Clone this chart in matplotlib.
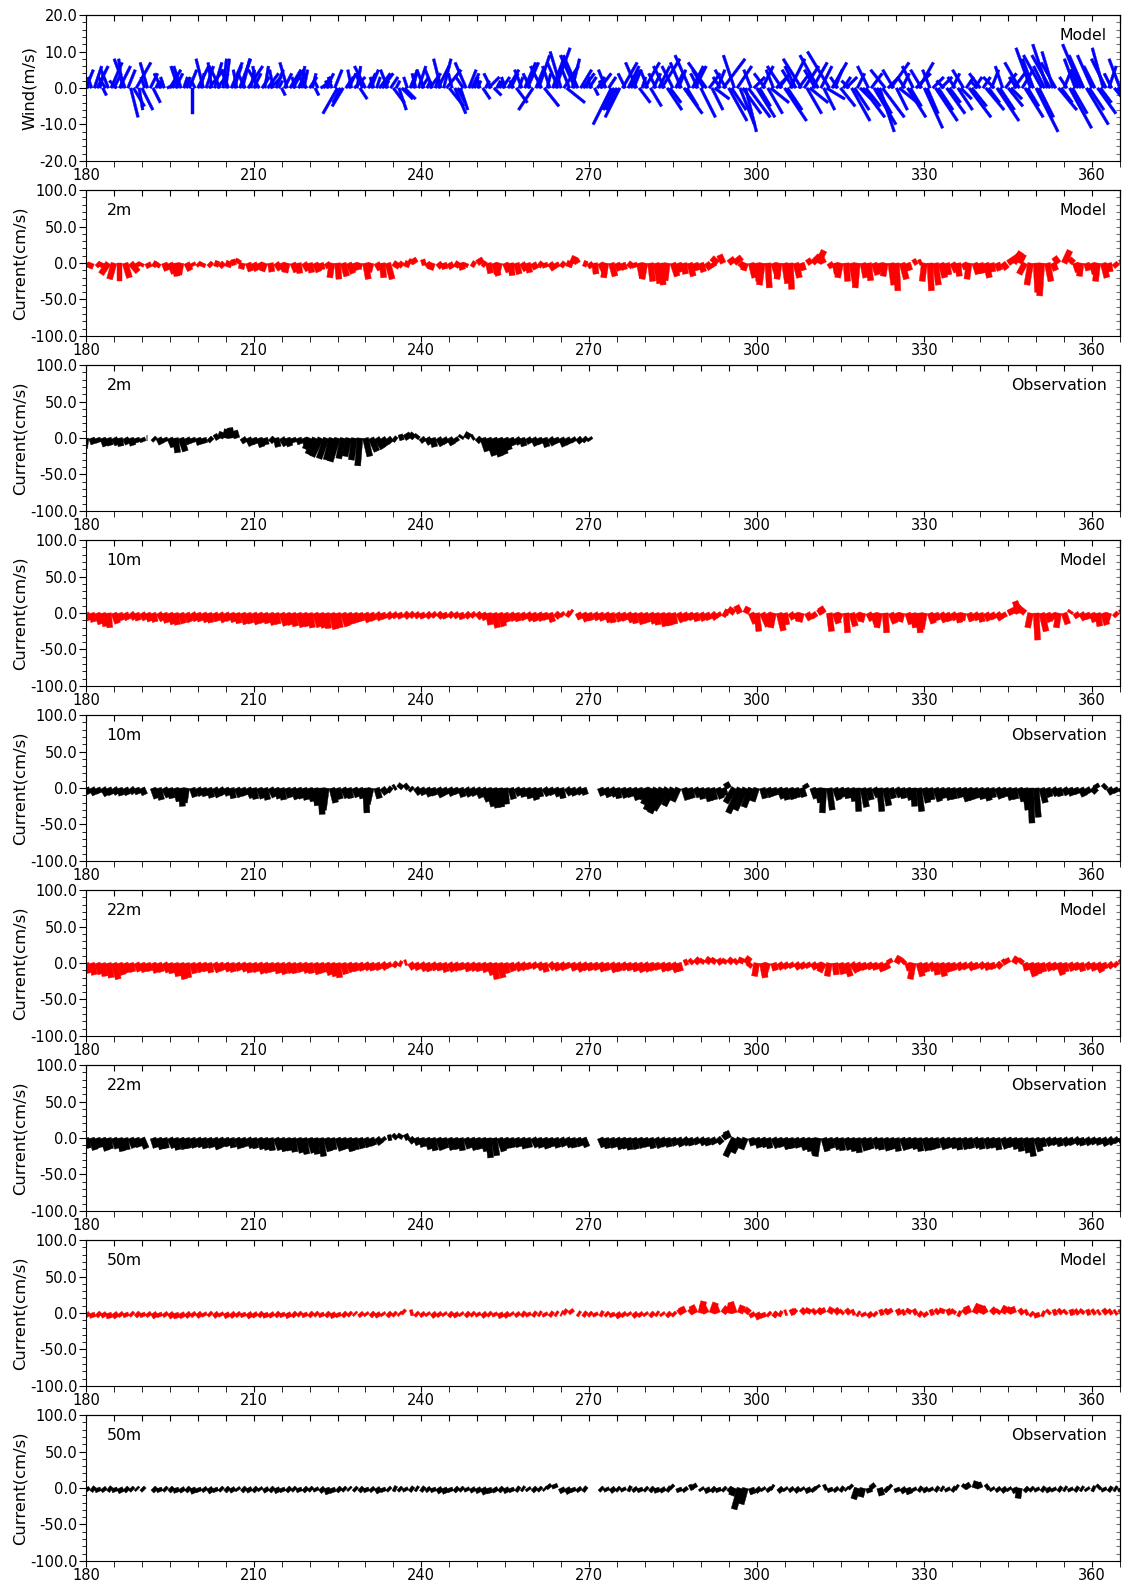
import numpy as np
import matplotlib
matplotlib.use('Agg')
import matplotlib.pyplot as plt
from matplotlib.ticker import MultipleLocator, FormatStrFormatter

nan = np.nan
days = np.arange(180, 366)               # daily current samples (day of year)
days_2m_obs = np.arange(180, 271)
wind_t = np.arange(180, 365.01, 0.5)     # 12-hourly wind samples

# ---------------- wind (m/s), model, two samples per day ----------------
wind_u = [2, -1, -1, 2, 3, 1, 1, -2, -2, 3,
          2, -2, 3, -1, -3, 2, 2, 3, 4, 1,
          3, -1, -2, 2, 2, 1, 1, -2, -1, 2,
          3, 1, 2, -2, -2, 1, 1, 2, 0, -1,
          3, 1, -2, 2, 4, -1, 2, 3, -3, 1,
          1, -2, 3, 2, -1, 3, 2, -2, 4, 1,
          2, -1, -3, 2, 1, 3, 3, -1, 2, 1,
          1, 2, -2, 3, 3, -1, 2, 1, 1, -2,
          2, 1, 1, -1, 3, 2, 2, -1, -1, 2,
          -4, -2, -3, 2, 2, -1, 3, 1, 2, -2,
          -3, 2, 2, -1, 1, 3, 3, 1, -2, 2,
          3, 1, 2, 3, 3, -1, 2, 1, -1, 2,
          2, -2, 1, 3, -2, 1, 3, -2, 2, 4,
          4, -1, 3, 2, 2, -2, -3, 2, 2, 1,
          1, -1, 2, 1, 3, -2, 2, 1, 1, 2,
          -1, 3, 2, -1, 3, 1, -2, 3, 3, -2,
          -4, 2, 3, -3, 4, 1, -2, 3, 4, -3,
          -3, 4, 5, -2, 2, -4, -4, 3, 3, 1,
          2, -1, 1, 2, 3, -1, -2, 2, -5, -3,
          -3, -4, 4, -2, 3, 2, 2, -3, 3, 1,
          4, -2, 3, 2, -2, 3, 5, -3, 4, 3,
          -3, 2, 2, -3, 5, 3, -4, 3, 3, -2,
          4, -3, -5, 3, 3, 4, 2, -2, 6, -3,
          5, 4, -3, 4, 4, 5, 3, 6, -2, 3,
          5, 3, 3, -3, 4, 5, -2, 3, 3, -4,
          6, 4, 4, -3, -3, 3, -5, 4, 4, 5,
          4, -3, -5, 3, 3, 5, -6, 4, 2, -2,
          4, 2, 3, -2, 5, 4, 2, 3, 6, 4,
          -3, 3, 6, 4, 4, 6, -4, 3, 5, -3,
          3, 5, 2, -2, 5, 3, -3, 4, 4, -3,
          5, 3, -2, 3, 6, 4, 3, -2, 5, 3,
          2, -2, 4, 3, -3, 2, 6, 4, 2, -2,
          -3, 2, 5, 3, 2, -3, 6, 4, -2, 3,
          4, 3, 3, -2, -4, 3, 5, 3, -4, -3,
          6, 4, -5, -3, -4, -5, -3, -4, 5, 3,
          2, -2, 6, 4, -3, -2, -5, -4, 6, 4,
          -4, -3, 5, 3, -3, -4, 2, -2, 4, 3,
          -3]
wind_v = [5, 2, 3, 6, 6, 4, -2, 3, 5, 7,
          4, 2, 6, 8, 8, 5, -8, -5, 7, -6,
          -6, 3, 7, 4, -4, 2, 2, 4, 3, 1,
          5, 3, 4, 6, 6, 3, 3, 5, -7, 2,
          6, 4, 8, 6, 5, 7, 7, 4, 6, 8,
          8, 5, 7, 6, 5, 8, 8, 4, 6, 5,
          4, 6, 5, 3, 6, 4, 3, 5, 5, 2,
          -2, 4, 7, 5, 5, 3, 4, 6, 5, 3,
          3, 4, -2, 2, 2, 3, 4, 2, 3, 5,
          -7, -4, -5, 3, 4, 5, 3, 6, -3, 4,
          6, 4, 5, 3, 3, 4, 4, 2, 5, 3,
          -4, 2, -6, -3, -3, 3, 5, 4, 4, 6,
          3, 5, 2, 4, 5, 3, 6, 8, 8, 5,
          -5, 4, -7, -4, -6, 3, 7, 5, 4, 3,
          2, 3, -3, 2, 3, 4, -2, 2, 2, 3,
          3, 5, 4, 2, -4, 3, 5, 7, 7, 4,
          -6, 5, 9, 6, -5, 4, 6, 8, 11, 7,
          10, 6, -4, 5, 8, 9, 9, 5, 4, 3,
          3, 2, -2, 3, 4, 2, 5, 3, -10, -6,
          -6, -8, 7, 4, 6, 5, 5, 7, -4, 3,
          7, 5, -5, 4, 4, 6, 8, 6, -6, -4,
          6, 4, 5, 7, -7, -5, 9, 6, 6, 4,
          -8, 5, 7, 4, -6, -3, 5, 3, 8, 5,
          -9, -6, 9, 6, -10, -7, -12, -8, 5, 3,
          -8, -5, 6, 4, -7, -4, 5, 3, 4, 6,
          -9, -6, 8, 5, 6, 4, 8, 6, -7, -4,
          7, 5, 9, 6, -6, -3, 10, 7, 5, 3,
          -5, 3, 3, 2, -9, -6, 4, -3, -8, -5,
          6, 4, -10, -7, -12, -8, 5, 3, 7, 5,
          -6, -4, 4, 3, -8, -5, 6, 4, 7, 5,
          -11, -7, 5, 3, -9, -6, 3, 2, -7, -4,
          4, 3, -6, -3, 5, 3, -8, -5, 3, 2,
          4, 3, -6, -4, 5, 3, -9, -6, 6, 4,
          -5, -3, 4, 3, 7, 5, -8, -5, 11, 8,
          -12, -8, 9, 6, 12, 9, 10, 7, -6, -4,
          5, 3, -11, -7, 8, 5, 12, 9, -10, -6,
          9, 6, -7, -4, 11, 8, 6, 4, -5, -3,
          8]

# ---------------- currents (cm/s), daily ----------------
cur2m_mod_u = [2, -3, 4, -2, -10, -6, 0, 6, 10, 3,
               -2, 3, 5, -3, 4, 6, 2, -3, 5, 2,
               3, -2, 4, 6, 5, 8, 6, 3, -2, 4,
               5, 3, -4, 2, 6, 4, -3, 5, 2, 6,
               3, 5, 2, 4, -3, 2, 5, 6, 3, -2,
               4, -3, 5, 2, 6, 8, 5, 7, 3, -4,
               6, 4, -3, 5, 2, 4, 6, 3, -2, 5,
               8, 4, 3, 6, -4, 5, 2, 4, 6, 3,
               4, 5, 2, 6, 3, 5, 8, 4, -3, 5,
               4, 2, 6, -3, 5, 4, 3, 6, 2, 4,
               -4, 3, 5, 2, -3, 6, 4, 2, 5, 3,
               4, 6, 3, -8, -5, 8, 10, 4, -3, 5,
               3, -4, 2, 6, -3, 4, 2, 5, 3, 6,
               10, 8, -6, 4, 3, -4, 2, 5, -3, 4,
               3, 5, 2, -3, 4, 2, 6, 3, 5, 4,
               -3, 2, 4, 5, 3, 6, 2, 4, -3, 5,
               3, 5, 2, 4, 6, 15, 10, 6, -8, -5,
               2, -3, 5, 4, -6, 8, 5, 4, -2, 3,
               4, -3, 5, 2, 4, 6]
cur2m_mod_v = [-5, -7, -4, -6, -15, -22, -24, -20, -12, -5,
               -4, -6, -3, -5, -10, -14, -18, -16, -10, -4,
               -3, -5, -4, -2, -5, -3, 2, 5, -8, -11,
               -10, -6, -11, -12, -9, -10, -13, -12, -14, -10,
               -13, -12, -9, -6, -20, -22, -18, -14, -10, -8,
               -22, -12, -9, -20, -22, -5, -4, -3, 4, 6,
               2, -5, -9, -6, -8, -7, -4, -9, -5, -3,
               5, -3, -14, -17, -16, -12, -17, -15, -10, -13,
               -8, -4, -6, -9, -6, -4, -3, 9, 5, -2,
               -6, -15, -12, -20, -18, -10, -9, -5, -6, -20,
               -22, -25, -28, -30, -24, -18, -12, -15, -18, -10,
               -12, -8, -5, 7, 11, 6, 8, -4, -10, -20,
               -25, -30, -34, -18, -22, -28, -36, -20, -10, 4,
               10, 17, 12, -6, -15, -20, -25, -28, -34, -20,
               -24, -16, -12, -18, -30, -38, -22, -10, 3, 2,
               -25, -38, -30, -20, -16, -12, -18, -8, -22, -15,
               -14, -20, -12, -10, -8, 10, 15, 12, -15, -30,
               -40, -45, -25, -10, 8, 17, 6, -12, -18, -10,
               -15, -25, -20, -12, -5, 3]

cur2m_obs_u = [-2, 3, 2, 4, 3, 5, 2, 4, 3, 2,
               2, 0, 3, 4, 2, 5, 3, 6, 4, 2,
               3, 2, 4, 5, 3, 2, -2, -3, 4, 5,
               3, 4, 2, 5, 3, 6, 4, 2, 3, 4,
               -6, -10, -12, -10, -8, -10, -6, -5, -4, -3,
               6, 8, 9, 7, 5, 4, 6, 8, 5, 3,
               4, 5, 3, 6, 4, 5, 3, 2, 4, 3,
               5, 6, 8, 9, 8, 6, 4, 5, 3, 4,
               5, 3, 4, 6, 3, 5, 4, 3, 5, 4,
               2]
cur2m_obs_v = [-14, -8, -6, -11, -10, -9, -11, -8, -10, -6,
               -5, 0, -3, -8, -5, -12, -20, -18, -8, -6,
               -9, -7, -4, 3, 8, 12, 14, 10, -6, -10,
               -8, -12, -9, -5, -12, -10, -11, -6, -8, -9,
               -15, -22, -25, -28, -30, -32, -28, -25, -30, -38,
               -25, -18, -14, -10, -6, -3, 2, 5, 6, 4,
               -5, -8, -12, -10, -7, -9, -5, 3, 7, 2,
               -5, -18, -24, -25, -22, -16, -10, -8, -11, -7,
               -10, -8, -12, -9, -7, -11, -8, -5, -6, -4,
               -3]

cur10m_mod_u = [4, 3, 5, 4, 2, 5, 3, 4, 6, 3,
                5, 4, 3, 6, 4, 5, 3, 4, 5, 6,
                4, 5, 3, 4, 6, 5, 4, 3, 5, 4,
                6, 5, 4, 5, 3, 6, 5, 4, 6, 5,
                4, 6, 5, 3, 5, 4, 6, 5, 4, 3,
                5, 4, 6, 3, 5, 4, 3, 6, 5, 4,
                3, 5, 4, 6, 3, 5, 4, 3, 5, 4,
                6, 4, 3, 5, 6, 4, 5, 3, 4, 6,
                4, 5, 3, 4, 6, 3, 5, -3, 4, 5,
                3, 5, 4, 6, 3, 5, 4, 6, 3, 5,
                4, 6, 3, 5, 4, 3, 6, 5, 4, 3,
                5, 4, 6, 3, 5, -6, -8, -5, 4, 6,
                3, 8, 5, -4, 6, 3, 5, 4, -3, 5,
                4, 6, -5, 3, 5, -4, 2, 5, 4, -3,
                5, 3, -4, 2, 6, 4, -3, 5, 3, 2,
                -4, 5, 3, 6, 4, 5, 3, -2, 4, 5,
                3, 5, 4, 6, 3, 8, 6, -6, -10, -4,
                2, 6, 4, 3, -3, 5, 2, 4, 6, 3,
                4, 3, 5, -3, 4, 5]
cur10m_mod_v = [-10, -12, -15, -18, -20, -14, -10, -9, -8, -10,
                -9, -11, -12, -10, -13, -15, -16, -14, -12, -10,
                -11, -12, -13, -11, -12, -10, -12, -14, -15, -14,
                -15, -13, -14, -16, -15, -17, -16, -18, -19, -18,
                -20, -19, -20, -21, -22, -20, -18, -15, -13, -11,
                -12, -10, -9, -8, -7, -6, -7, -6, -5, -6,
                -7, -6, -5, -6, -7, -5, -6, -8, -6, -5,
                -7, -9, -16, -20, -18, -12, -10, -11, -9, -10,
                -11, -10, -9, -12, -6, -4, -3, 2, -8, -11,
                -10, -9, -10, -12, -13, -11, -10, -12, -14, -15,
                -13, -14, -16, -18, -17, -15, -12, -10, -9, -11,
                -10, -9, -8, -5, -3, 2, 6, 10, 8, -14,
                -25, -18, -10, -20, -24, -16, -8, -10, -12, -9,
                -6, 4, 8, -25, -14, -10, -27, -18, -8, -12,
                -10, -15, -20, -27, -14, -10, -12, -15, -20, -27,
                -22, -14, -10, -12, -11, -9, -13, -10, -11, -9,
                -12, -10, -8, -9, -6, 4, 12, 16, 8, -20,
                -37, -25, -12, -8, -20, -15, 3, -6, -9, -8,
                -12, -18, -16, -10, -4, 3]

cur10m_obs_u = [4, 5, 3, 6, 4, 5, 3, 4, 5, 3,
                4, nan, 5, 4, 6, 3, 5, 2, -3, 4,
                5, 3, 4, 6, 5, 4, 3, 5, 4, 6,
                3, 5, 4, 6, 5, 3, 4, 6, 5, 4,
                5, 3, 2, -4, 5, 4, 6, 3, 5, 4,
                2, -5, 4, 6, 5, 3, 4, 5, 3, 6,
                4, 5, 3, 6, 4, 5, 3, 4, 6, 5,
                6, 8, 7, 5, 3, 2, 4, 5, 3, 4,
                5, 3, 6, 4, 5, 3, 6, 4, 5, 3,
                nan, nan, 4, 5, 6, 3, 5, 4, 6, 5,
                4, -10, -14, -16, -18, -12, -8, 5, 4, 6,
                3, 5, 4, 6, 3, -4, -12, -16, -14, -10,
                -6, 4, 5, 3, 6, 4, 5, 3, 4, -3,
                5, 3, -2, 4, 6, 5, 3, 4, 2, 5,
                4, 6, 3, 5, 4, 6, 3, 5, 2, 4,
                5, 3, 6, 4, 5, 3, 4, 6, 5, 3,
                4, 5, 3, 6, 4, 5, 3, 6, 4, 2,
                3, 5, 4, 6, 3, 5, 4, 3, 5, 4,
                6, -3, 4, 5, 3, 4]
cur10m_obs_v = [-8, -9, -7, -10, -9, -8, -10, -9, -7, -8,
                -9, nan, -14, -16, -12, -14, -18, -25, -20, -12,
                -10, -11, -13, -12, -9, -10, -14, -12, -10, -13,
                -15, -14, -16, -12, -14, -16, -13, -15, -14, -16,
                -18, -24, -36, -30, -20, -15, -13, -14, -12, -14,
                -34, -22, -14, -8, -4, 2, 5, 4, -3, -8,
                -9, -11, -10, -12, -9, -10, -8, -12, -11, -10,
                -13, -18, -25, -27, -26, -22, -15, -10, -12, -14,
                -16, -12, -10, -9, -11, -14, -9, -10, -8, -9,
                nan, nan, -10, -12, -11, -14, -13, -12, -16, -15,
                -14, -22, -30, -34, -30, -24, -18, -16, -14, -12,
                -15, -18, -16, -14, -10, 7, -20, -34, -30, -26,
                -18, -14, -12, -10, -14, -16, -15, -13, -12, 5,
                -14, -20, -34, -30, -16, -12, -14, -18, -32, -26,
                -16, -12, -32, -24, -14, -12, -14, -16, -25, -32,
                -20, -16, -18, -14, -16, -15, -13, -18, -16, -14,
                -15, -17, -13, -14, -12, -16, -15, -18, -30, -48,
                -40, -20, -12, -10, -11, -9, -10, -8, -11, -7,
                -6, 5, 4, -8, -6, -4]

cur22m_mod_u = [3, 4, 5, 3, 4, 6, 5, 4, 3, 5,
                4, 3, 5, 4, 6, 3, 4, 5, 3, 4,
                5, 4, 3, 6, 4, 5, 3, 4, 5, 3,
                4, 6, 5, 3, 4, 5, 6, 3, 4, 5,
                3, 5, 4, 6, 5, 3, 4, 5, 3, 4,
                5, 3, 4, 6, 3, 5, 4, 3, 5, 4,
                6, 4, 5, 3, 4, 6, 5, 3, 4, 5,
                3, 5, 6, 4, 5, 3, 4, 6, 5, 3,
                4, 5, 3, 6, 4, 5, 3, 4, 6, 5,
                3, 4, 5, 3, 6, 4, 5, 3, 4, 5,
                6, 4, 3, 5, 4, 6, 3, 5, 4, 6,
                3, 5, 4, 6, 3, 5, 4, 3, 6, -4,
                -3, 4, -5, 3, 5, 4, 3, 5, 4, 3,
                5, 4, -6, -3, 2, 4, 6, 8, 5, 3,
                4, 3, 5, 4, -3, 5, 4, 3, -4, 5,
                4, 6, 3, 5, 4, 3, 5, 4, 6, 3,
                5, 4, 3, 6, 4, -3, 5, 4, 3, 6,
                4, 3, 5, 4, 6, 3, 5, 4, 3, 5,
                4, 6, 3, 5, 4, 3]
cur22m_mod_v = [-14, -16, -15, -18, -20, -22, -16, -13, -12, -11,
                -12, -11, -13, -12, -12, -14, -18, -22, -20, -14,
                -12, -11, -13, -12, -10, -11, -12, -10, -11, -13,
                -12, -14, -13, -12, -14, -15, -13, -14, -12, -13,
                -14, -15, -13, -16, -18, -20, -15, -12, -11, -10,
                -9, -10, -9, -8, -6, -4, -2, 1, -8, -9,
                -10, -11, -9, -10, -12, -11, -10, -9, -11, -10,
                -11, -12, -16, -22, -20, -14, -11, -10, -9, -8,
                -7, -9, -12, -8, -10, -9, -7, -10, -11, -9,
                -10, -9, -11, -10, -12, -11, -9, -10, -11, -12,
                -11, -10, -9, -11, -10, -12, -11, 2, 4, 6,
                5, 7, 6, 4, 5, 6, 4, 7, 8, -5,
                -18, -20, -16, -10, -8, -7, -6, -8, -7, -6,
                -8, -9, -12, -18, -16, -15, -18, -12, -10, -9,
                -8, -9, -11, -8, 5, 9, 4, -10, -22, -18,
                -12, -10, -16, -18, -12, -10, -9, -8, -9, -8,
                -7, -9, -8, -6, 3, 6, 8, 5, -10, -18,
                -15, -12, -10, -9, -16, -12, -10, -9, -11, -8,
                -10, -12, -8, -6, -4, 3]

cur22m_obs_u = [3, 5, 4, 6, 3, 5, 4, 3, 5, 4,
                6, nan, 4, 5, 3, 6, 4, 5, 3, 4,
                5, 3, 4, 6, 5, 4, 3, 5, 4, 6,
                3, 5, 4, 3, 6, 5, 4, 3, 5, 4,
                6, 3, 4, 5, 3, 6, 4, 5, 3, 4,
                5, 4, 6, 3, 5, 4, 3, 6, 5, 4,
                3, 5, 4, 6, 3, 5, 4, 3, 5, 6,
                4, 5, 3, 4, 6, 5, 3, 4, 5, 3,
                6, 4, 5, 3, 4, 5, 6, 3, 4, 5,
                nan, nan, 5, 3, 4, 6, 5, 3, 4, 5,
                3, 4, 6, 5, 3, 4, 5, 6, 3, 4,
                5, 3, 4, 6, 5, -4, -12, -10, -6, 3,
                4, 5, 3, 6, 4, 5, 3, 4, 6, 5,
                3, -4, 5, 4, 6, 3, 5, 4, 3, 5,
                4, 6, 3, 5, 4, 3, 6, 5, 4, 3,
                5, 4, 3, 6, 5, 4, 3, 5, 4, 6,
                3, 5, 4, 3, 6, 5, 4, 3, 5, 4,
                6, 3, 5, 4, 3, 5, 4, 6, 3, 5,
                4, 3, 5, 6, 4, 3]
cur22m_obs_v = [-14, -16, -13, -17, -15, -14, -18, -16, -13, -12,
                -14, nan, -13, -15, -14, -13, -16, -15, -14, -13,
                -12, -14, -13, -15, -12, -11, -13, -14, -12, -13,
                -14, -15, -16, -17, -16, -18, -17, -19, -20, -22,
                -20, -22, -25, -18, -16, -17, -15, -18, -16, -14,
                -12, -10, -8, -4, 1, 4, 5, 3, -6, -9,
                -12, -15, -17, -16, -14, -16, -15, -17, -14, -16,
                -15, -18, -27, -24, -18, -14, -13, -12, -14, -13,
                -12, -13, -14, -12, -13, -11, -12, -13, -11, -12,
                nan, nan, -12, -14, -13, -15, -14, -16, -15, -13,
                -12, -14, -13, -11, -12, -10, -11, -9, -10, -8,
                -9, -10, -8, -7, 4, 9, -25, -20, -15, -10,
                -13, -12, -14, -13, -12, -15, -14, -13, -16, -18,
                -22, -25, -18, -14, -15, -17, -16, -18, -20, -17,
                -15, -14, -16, -17, -15, -18, -16, -14, -15, -18,
                -17, -16, -14, -15, -13, -14, -16, -15, -14, -13,
                -15, -14, -13, -16, -14, -12, -15, -18, -20, -25,
                -18, -12, -10, -9, -11, -10, -9, -8, -10, -9,
                -8, -9, -10, -8, -6, -5]

cur50m_mod_u = [3, 2, 4, 3, 2, 4, 3, 2, 3, 4,
                2, 3, 4, 2, 3, 4, 2, 3, 4, 3,
                4, 2, 3, 4, 2, 3, 4, 3, 2, 4,
                3, 4, 2, 3, 4, 2, 3, 4, 3, 2,
                4, 3, 2, 4, 3, 2, 4, 3, 2, 3,
                2, 4, 3, 2, 4, 3, 2, -3, 4, 3,
                3, 2, 4, 3, 2, 4, 3, 2, 4, 3,
                2, 4, 3, 2, 3, 4, 2, 3, 4, 2,
                4, 3, 2, 4, 3, 2, -4, -3, 3, 4,
                3, 2, 4, 3, 2, 4, 3, 2, 4, 3,
                2, 4, 3, 2, 4, 3, 5, -4, 6, -5,
                4, -6, 5, -4, 6, 3, -5, 4, 5, 3,
                4, 2, 3, 5, 4, 3, 6, -4, 5, 3,
                4, 5, -3, 4, 6, 3, 5, 4, 3, 2,
                4, 3, 5, 4, -3, 6, 4, 3, 5, 4,
                3, 5, 4, 2, 6, 3, 4, 5, -4, 6,
                4, -5, 6, 3, 5, 4, -3, 5, 4, 3,
                2, 4, 3, 5, 4, 3, 6, 4, 3, 5,
                4, 3, 5, 4, 3, 2]
cur50m_mod_v = [-5, -6, -4, -5, -7, -6, -4, -5, -3, -4,
                -5, -4, -6, -5, -4, -6, -7, -6, -5, -4,
                -5, -4, -3, -5, -4, -6, -5, -4, -5, -6,
                -5, -4, -6, -5, -4, -5, -6, -4, -3, -5,
                -4, -3, -5, -4, -6, -5, -4, -3, -2, -4,
                -3, -4, -5, -3, -4, -3, -2, 3, 1, -3,
                -4, -3, -5, -4, -3, -4, -5, -3, -4, -3,
                -4, -5, -3, -4, -6, -5, -3, -4, -3, -4,
                -3, -2, -4, -3, -2, -1, 3, 4, -2, -3,
                -3, -4, -2, -3, -5, -6, -4, -3, -5, -4,
                -3, -4, -2, -3, -4, -3, 4, 8, 6, 10,
                16, 12, 14, 10, 8, 12, 15, 10, 6, -5,
                -8, -6, -3, -4, -2, 1, 3, 4, 5, 6,
                4, 5, 6, 7, 5, 3, 4, 2, -2, -4,
                -5, -3, 2, 4, 5, 3, 2, 5, 3, -3,
                -4, 2, 4, 6, 3, 4, -2, 5, 9, 12,
                10, 8, 6, 4, 9, 7, 8, 4, 2, -3,
                -6, -2, 3, 2, 4, 3, 2, 3, 4, 2,
                3, 2, 4, 3, 2, 3]

cur50m_obs_u = [3, 4, 2, 3, 4, 2, 3, 4, 3, 2,
                3, nan, 4, 2, 3, 4, 2, 3, 4, 3,
                2, 3, 4, 2, 3, 4, 3, 2, 4, 3,
                4, 2, 3, 4, 3, 2, 4, 3, 2, 4,
                3, 2, 4, 3, 2, 4, 3, 2, 3, 4,
                2, 3, 4, 2, 3, 4, 3, 2, 4, 3,
                4, 3, 2, 4, 3, 2, 4, 3, 2, 3,
                3, 4, 2, 3, 4, 3, 2, 4, 3, 2,
                4, 3, 2, -3, -2, 3, 4, 2, 3, 4,
                nan, nan, 3, 2, 4, 3, 2, 4, 3, 2,
                3, 4, 2, 3, 4, -3, 2, 3, 4, -3,
                2, 3, 4, 2, 3, 4, -4, -8, -6, 3,
                4, 2, 3, -3, 4, 2, 3, 4, 2, 3,
                3, -2, 4, 2, 3, 4, 2, -3, -5, -3,
                2, -4, 3, 4, -3, 2, 4, 3, 2, 4,
                3, 2, 4, 3, 2, 4, -3, 3, -4, 3,
                -3, 4, 2, 3, 4, 2, 3, -2, 4, 3,
                2, 4, 3, 2, 4, 3, 2, 4, 3, 2,
                4, 3, 2, 4, 3, 2]
cur50m_obs_v = [-4, -3, -5, -4, -3, -5, -6, -4, -3, -2,
                -3, nan, -4, -5, -3, -4, -6, -5, -4, -7,
                -5, -4, -6, -5, -3, -4, -5, -3, -4, -5,
                -4, -3, -5, -4, -6, -5, -4, -3, -5, -4,
                -3, -4, -5, -8, -6, -4, -3, -2, -3, -4,
                -5, -4, -6, -5, -3, -2, -3, -4, -3, -2,
                -3, -4, -5, -6, -7, -5, -4, -3, -4, -5,
                -6, -8, -7, -5, -4, -6, -5, -3, -2, -3,
                -4, -3, -2, 4, 5, -6, -7, -5, -4, -3,
                nan, nan, -3, -4, -5, -3, -4, -2, -4, -5,
                -3, -4, -6, -5, -3, 3, -5, -4, 2, 5,
                -3, -6, -4, -5, -3, -4, -10, -29, -22, -8,
                -5, -3, -4, 2, -5, -3, -4, -5, -3, -6,
                -4, 3, 2, -5, -4, -3, -2, 3, -15, -12,
                -6, 5, -10, -4, 3, -5, -6, -8, -4, -3,
                -5, -4, -3, -2, -4, -3, 2, 4, 6, 9,
                7, 3, -3, -4, -5, -3, -6, -14, -4, -3,
                -4, -3, -5, -4, -3, -2, -4, -3, -2, -3,
                -2, 3, -4, -3, -2, -4]

panels = [
    (wind_t, wind_u, wind_v, 'blue', 'Wind(m/s)', '', 'Model'),
    (days, cur2m_mod_u, cur2m_mod_v, 'red', 'Current(cm/s)', '2m', 'Model'),
    (days_2m_obs, cur2m_obs_u, cur2m_obs_v, 'black', 'Current(cm/s)', '2m', 'Observation'),
    (days, cur10m_mod_u, cur10m_mod_v, 'red', 'Current(cm/s)', '10m', 'Model'),
    (days, cur10m_obs_u, cur10m_obs_v, 'black', 'Current(cm/s)', '10m', 'Observation'),
    (days, cur22m_mod_u, cur22m_mod_v, 'red', 'Current(cm/s)', '22m', 'Model'),
    (days, cur22m_obs_u, cur22m_obs_v, 'black', 'Current(cm/s)', '22m', 'Observation'),
    (days, cur50m_mod_u, cur50m_mod_v, 'red', 'Current(cm/s)', '50m', 'Model'),
    (days, cur50m_obs_u, cur50m_obs_v, 'black', 'Current(cm/s)', '50m', 'Observation'),
]

W, H = 1124, 1587
fig = plt.figure(figsize=(W / 100, H / 100), dpi=100)
left, width = 86 / W, 1034 / W
top0, step, ph = 15.2, 175.0, 145.7
fs = 10.5

for i, (t, u, v, col, ylab, depth, src) in enumerate(panels):
    bottom = 1 - (top0 + step * i + ph) / H
    ax = fig.add_axes([left, bottom, width, ph / H])
    is_wind = i == 0
    ax.set_xlim(180, 365)
    if is_wind:
        ax.set_ylim(-20, 20)
        ax.yaxis.set_major_locator(MultipleLocator(10))
        ax.yaxis.set_minor_locator(MultipleLocator(2))
        sw = 0.0026
    else:
        ax.set_ylim(-100, 100)
        ax.yaxis.set_major_locator(MultipleLocator(50))
        ax.yaxis.set_minor_locator(MultipleLocator(10))
        sw = 0.0057
    ax.quiver(t, np.zeros(len(t)), np.array(u, float), np.array(v, float),
              color=col, angles='uv', scale_units='y', scale=1, pivot='tail',
              headwidth=0, headlength=0, headaxislength=0, minlength=0,
              width=sw, linewidth=0.3, edgecolor=col)
    ax.yaxis.set_major_formatter(FormatStrFormatter('%.1f'))
    ax.xaxis.set_major_locator(MultipleLocator(30))
    ax.xaxis.set_minor_locator(MultipleLocator(5))
    ax.tick_params(axis='x', which='both', direction='out', length=4,
                   labelsize=fs, pad=1, top=False)
    ax.tick_params(axis='y', which='major', direction='out', length=5,
                   labelsize=fs, pad=1, right=False)
    ax.tick_params(axis='y', which='minor', direction='out', length=3, right=False)
    sx = ax.secondary_xaxis('top')
    sx.xaxis.set_major_locator(MultipleLocator(5))
    sx.tick_params(direction='in', length=4, labeltop=False)
    sy = ax.secondary_yaxis('right')
    sy.yaxis.set_major_locator(MultipleLocator(10 if not is_wind else 2))
    sy.tick_params(direction='in', length=3, labelright=False, color='0.45')
    ax.set_ylabel(ylab, fontsize=11.8, labelpad=2)
    ax.text(0.987, 0.86, src, transform=ax.transAxes, ha='right', va='center',
            fontsize=11.3)
    if depth:
        ax.text(0.02, 0.86, depth, transform=ax.transAxes, ha='left', va='center',
                fontsize=11.3)

fig.savefig('out.png', dpi=100)
